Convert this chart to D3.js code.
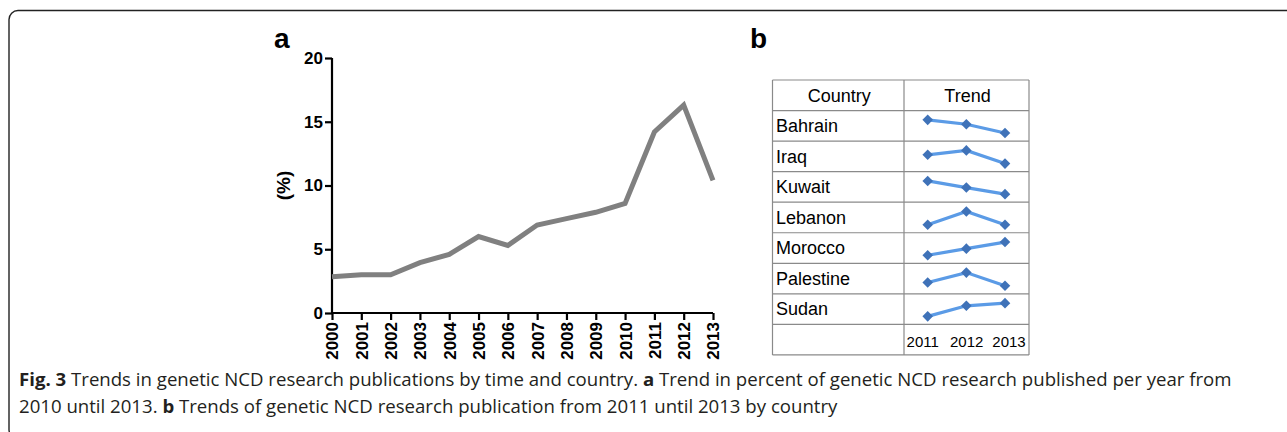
<!DOCTYPE html>
<html>
<head>
<meta charset="utf-8">
<script src="https://cdn.jsdelivr.net/npm/d3@7"></script>
<style>
  html, body { margin: 0; padding: 0; background: #fff; }
  svg { display: block; }
</style>
</head>
<body>
<svg id="fig" width="1287" height="432"></svg>
<script>
// Panel a: percent of genetic NCD research published per year
const years = [2000, 2001, 2002, 2003, 2004, 2005, 2006, 2007, 2008, 2009, 2010, 2011, 2012, 2013];
const percent = [2.85, 3.0, 3.0, 3.95, 4.6, 6.0, 5.3, 6.9, 7.4, 7.9, 8.6, 14.2, 16.3, 10.4];
const yTicks = [0, 5, 10, 15, 20];

// Panel b: per-country publication counts, 2011-2013
const trendYears = [2011, 2012, 2013];
const countries = ["Bahrain", "Iraq", "Kuwait", "Lebanon", "Morocco", "Palestine", "Sudan"];
const bahrain   = [10, 8, 4];
const iraq      = [9, 11, 5];
const kuwait    = [8, 5, 2];
const lebanon   = [4, 7, 4];
const morocco   = [2, 4, 6];
const palestine = [3, 6, 2];
const sudan     = [1, 5, 6];
const countryCounts = [bahrain, iraq, kuwait, lebanon, morocco, palestine, sudan];

const captionLine1 = [
  { t: "Fig. 3", bold: true },
  { t: " Trends in genetic NCD research publications by time and country. ", bold: false },
  { t: "a", bold: true },
  { t: " Trend in percent of genetic NCD research published per year from", bold: false }
];
const captionLine2 = [
  { t: "2010 until 2013. ", bold: false },
  { t: "b", bold: true },
  { t: " Trends of genetic NCD research publication from 2011 until 2013 by country", bold: false }
];

const svg = d3.select("#fig");
const sans = "'Liberation Sans', Arial, sans-serif";

// Rounded figure frame (continues past the right and bottom edges)
svg.append("rect")
  .attr("x", 9).attr("y", 10.5)
  .attr("width", 1400).attr("height", 428)
  .attr("rx", 9).attr("ry", 9)
  .attr("fill", "none").attr("stroke", "#222").attr("stroke-width", 1.4);

// ---------- Panel a ----------
const ax = { left: 332, right: 713, top: 58, bottom: 313 };
const x = d3.scalePoint().domain(years).range([ax.left, ax.right]);
const y = d3.scaleLinear().domain([0, 20]).range([ax.bottom, ax.top]);

const gA = svg.append("g");

const yAxis = gA.append("g")
  .attr("transform", `translate(${ax.left},0)`)
  .call(d3.axisLeft(y).tickValues(yTicks).tickSize(7).tickPadding(2).tickFormat(d3.format("d")));
const xAxis = gA.append("g")
  .attr("transform", `translate(0,${ax.bottom})`)
  .call(d3.axisBottom(x).tickSize(7).tickPadding(2).tickFormat(d3.format("d")));

[yAxis, xAxis].forEach(g => {
  g.select(".domain").attr("stroke", "#000").attr("stroke-width", 2.2);
  g.selectAll(".tick line").attr("stroke", "#000").attr("stroke-width", 2.2);
  g.selectAll(".tick text")
    .attr("fill", "#000")
    .style("font-family", sans)
    .style("font-size", "17px")
    .style("font-weight", "bold");
});
yAxis.select(".domain").attr("d", `M0,${ax.bottom}V${ax.top}`);
xAxis.select(".domain").attr("d", `M${ax.left},0H${ax.right}`);
xAxis.selectAll(".tick text")
  .attr("transform", "rotate(-90)")
  .attr("text-anchor", "end")
  .attr("x", -9).attr("y", 0).attr("dy", "0.35em");

gA.append("path")
  .datum(percent)
  .attr("fill", "none")
  .attr("stroke", "#808080")
  .attr("stroke-width", 5)
  .attr("stroke-linejoin", "miter")
  .attr("d", d3.line().x((d, i) => x(years[i])).y(d => y(d)));

gA.append("text")
  .attr("transform", `translate(290,${(ax.top + ax.bottom) / 2}) rotate(-90)`)
  .attr("text-anchor", "middle")
  .style("font-family", sans)
  .style("font-size", "19px").style("font-weight", "bold")
  .text("(%)");

gA.append("text")
  .attr("x", 274).attr("y", 48)
  .style("font-family", sans)
  .style("font-size", "28px").style("font-weight", "bold")
  .text("a");

// ---------- Panel b ----------
svg.append("text")
  .attr("x", 750).attr("y", 48)
  .style("font-family", sans)
  .style("font-size", "28px").style("font-weight", "bold")
  .text("b");

const tb = { left: 772.5, mid: 904, right: 1029, top: 80, rowH: 30.55 };
const nRows = countries.length + 2;
const gB = svg.append("g");
const gridColor = "#8a8a8a";

for (let r = 0; r <= nRows; r++) {
  gB.append("line")
    .attr("x1", tb.left).attr("x2", tb.right)
    .attr("y1", tb.top + r * tb.rowH).attr("y2", tb.top + r * tb.rowH)
    .attr("stroke", gridColor).attr("stroke-width", 1.2);
}
[tb.left, tb.mid, tb.right].forEach(cx => {
  gB.append("line")
    .attr("x1", cx).attr("x2", cx)
    .attr("y1", tb.top).attr("y2", tb.top + nRows * tb.rowH)
    .attr("stroke", gridColor).attr("stroke-width", 1.2);
});

gB.append("text")
  .attr("x", (tb.left + tb.mid) / 2 + 1).attr("y", tb.top + tb.rowH / 2).attr("dy", "0.35em")
  .attr("text-anchor", "middle")
  .style("font-family", sans).style("font-size", "18px")
  .text("Country");
gB.append("text")
  .attr("x", (tb.mid + tb.right) / 2 + 1).attr("y", tb.top + tb.rowH / 2).attr("dy", "0.35em")
  .attr("text-anchor", "middle")
  .style("font-family", sans).style("font-size", "18px")
  .text("Trend");

const sx = d3.scalePoint().domain(trendYears).range([927.7, 1005]);
const marker = d3.symbol().type(d3.symbolSquare).size(56);

countries.forEach((c, i) => {
  const rowTop = tb.top + (i + 1) * tb.rowH;
  gB.append("text")
    .attr("x", 776).attr("y", rowTop + tb.rowH / 2).attr("dy", "0.35em")
    .style("font-family", sans).style("font-size", "18px")
    .text(c);

  const vals = countryCounts[i];
  const sy = d3.scaleLinear().domain(d3.extent(vals)).range([rowTop + 22.5, rowTop + 9.3]);
  gB.append("path")
    .datum(vals)
    .attr("fill", "none")
    .attr("stroke", "#5b9be6")
    .attr("stroke-width", 3.2)
    .attr("d", d3.line().x((d, j) => sx(trendYears[j])).y(d => sy(d)));
  gB.selectAll(null)
    .data(vals)
    .join("path")
    .attr("d", marker)
    .attr("transform", (d, j) => `translate(${sx(trendYears[j])},${sy(d)}) rotate(45)`)
    .attr("fill", "#3f72b8");
});

const lastTop = tb.top + (countries.length + 1) * tb.rowH;
gB.selectAll(null)
  .data(trendYears)
  .join("text")
  .attr("x", (d, j) => [922.7, 966.7, 1009][j])
  .attr("y", lastTop + tb.rowH / 2 + 2).attr("dy", "0.35em")
  .attr("text-anchor", "middle")
  .style("font-family", sans).style("font-size", "15px")
  .text(d => d);

// ---------- Caption ----------
const capFont = "'Open Sans', 'Noto Sans', sans-serif";
function caption(parts, yPos) {
  const t = svg.append("text")
    .attr("x", 19).attr("y", yPos)
    .style("font-family", capFont).style("font-size", "15px")
    .attr("fill", "#231f20");
  parts.forEach(p => {
    t.append("tspan")
      .style("font-weight", p.bold ? "bold" : "normal")
      .text(p.t);
  });
  return t;
}
const c1 = caption(captionLine1, 386);
const c2 = caption(captionLine2, 413);
// Fit the first line to the caption width and use the same size for both lines
const w1 = c1.node().getComputedTextLength();
const fs = 15 * (1213 / w1);
c1.style("font-size", fs + "px");
c2.style("font-size", fs + "px");
</script>
</body>
</html>
